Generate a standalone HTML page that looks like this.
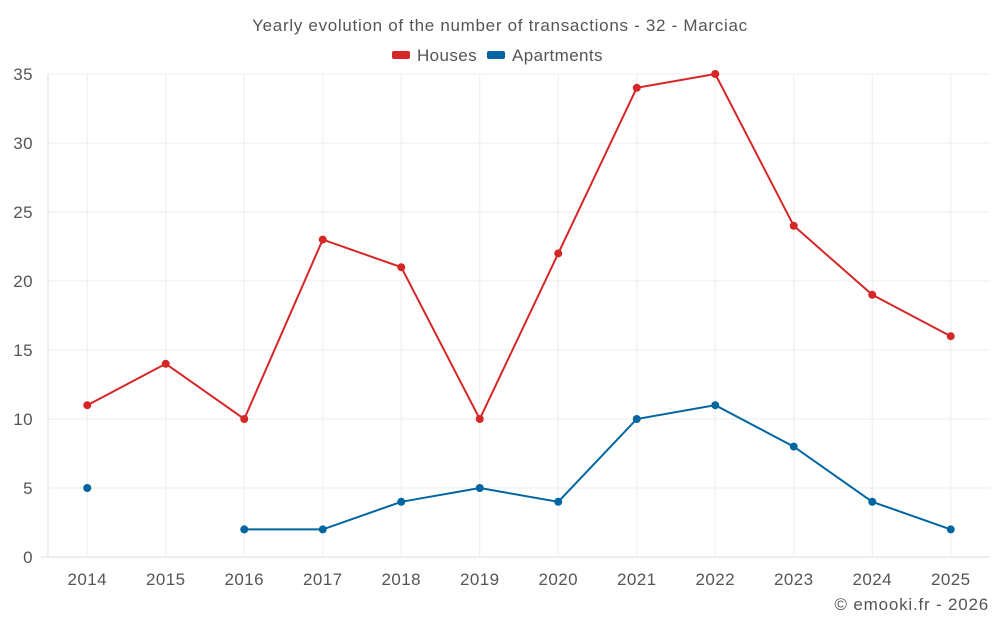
<!DOCTYPE html>
<html><head><meta charset="utf-8"><style>
body{margin:0;background:#fff;font-family:"Liberation Sans",sans-serif}
text{font-family:"Liberation Sans",sans-serif;letter-spacing:0.4px}
</style></head><body>
<svg id="chart" width="1000" height="625" xmlns="http://www.w3.org/2000/svg">
<text x="500" y="31" text-anchor="middle" font-size="17" fill="#555" style="letter-spacing:0.7px">Yearly evolution of the number of transactions - 32 - Marciac</text>
<g>
<g><rect x="392" y="51" width="18" height="8" rx="2" fill="#d62728"/><text x="417" y="61" font-size="17" fill="#555">Houses</text></g>
<g><rect x="487" y="51" width="18" height="8" rx="2" fill="#0066a1"/><text x="512" y="61" font-size="17" fill="#555">Apartments</text></g>
</g>
<g id="grid"></g><g id="axes"></g><g id="series"></g>
<text x="989" y="610" text-anchor="end" font-size="17" fill="#555" style="letter-spacing:0.8px">© emooki.fr - 2026</text>
</svg>
<script>
const years=["2014","2015","2016","2017","2018","2019","2020","2021","2022","2023","2024","2025"];
const houses=[11,14,10,23,21,10,22,34,35,24,19,16];
const apartments=[5,null,2,2,4,5,4,10,11,8,4,2];
const yTicks=[0,5,10,15,20,25,30,35];
const NS="http://www.w3.org/2000/svg";
const L=48,R=990,T=74,B=557,yMax=35;
const bw=(R-L)/years.length;
const x=i=>L+bw*(i+0.5);
const y=v=>B-(v/yMax)*(B-T);
function mk(tag,attrs,parent){const e=document.createElementNS(NS,tag);for(const k in attrs)e.setAttribute(k,attrs[k]);parent.appendChild(e);return e;}
const grid=document.getElementById('grid'),axes=document.getElementById('axes'),ser=document.getElementById('series');
yTicks.forEach(t=>{
 const g=mk('line',{x1:L,x2:R,y1:y(t),y2:y(t),stroke:t===0?'#ddd':'#eee','stroke-width':1},grid);
 
 
 const tx=mk('text',{x:33,y:y(t)+6,'text-anchor':'end','font-size':17,fill:'#555'},axes);
 tx.textContent=t;
 
 
});
mk('line',{x1:41,x2:L,y1:B,y2:B,stroke:'#ddd'},axes);
const ax=mk('line',{x1:L,x2:L,y1:T,y2:B,stroke:'#ddd'},axes);


years.forEach((yr,i)=>{
 const g=mk('line',{x1:x(i),x2:x(i),y1:T,y2:B,stroke:'#eee'},grid);
 
 
 const tx=mk('text',{x:x(i),y:585,'text-anchor':'middle','font-size':17,fill:'#555'},axes);
 tx.textContent=yr;
 
 
});
function draw(data,color,name){
 let d='',pen=false;
 data.forEach((v,i)=>{if(v===null){pen=false;return;}d+=(pen?'L':'M')+x(i)+' '+y(v)+' ';pen=true;});
 const p=mk('path',{d:d,fill:'none',stroke:color,'stroke-width':2},ser);
 
 
 data.forEach((v,i)=>{if(v===null)return;
  const c=mk('circle',{cx:x(i),cy:y(v),r:4,fill:color},ser);
  
  
 });
}
draw(houses,'#d62728','houses');
draw(apartments,'#0066a1','apartments');
</script>
</body></html>
